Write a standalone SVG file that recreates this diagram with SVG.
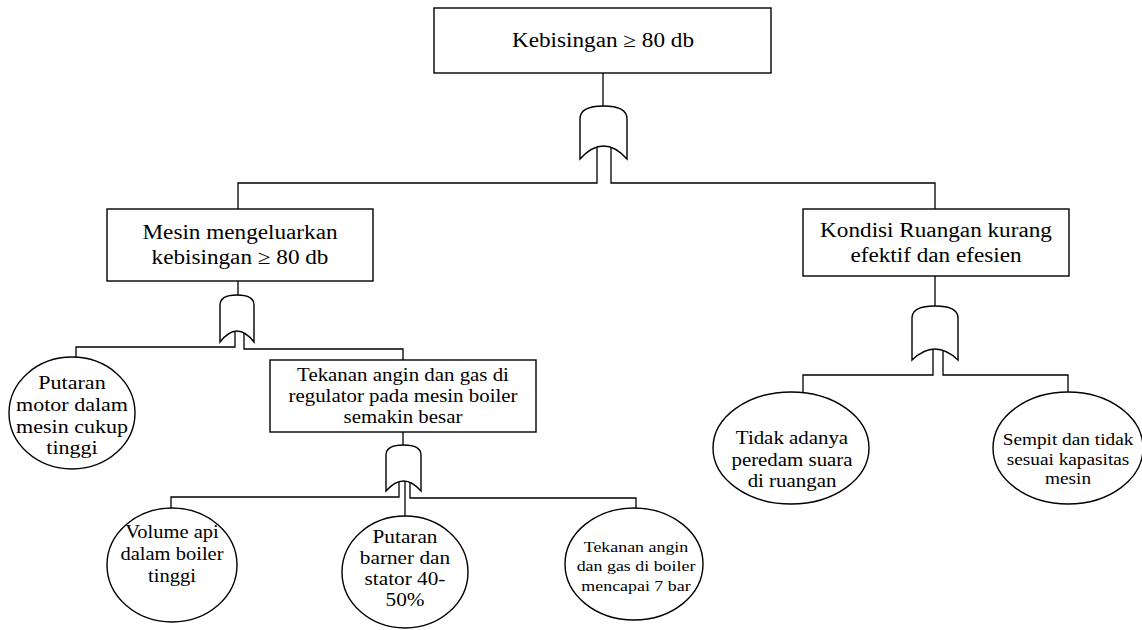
<svg xmlns="http://www.w3.org/2000/svg" width="1142" height="630" viewBox="0 0 1142 630">
<style>
.box{fill:#fff;stroke:#000;stroke-width:1.4}
.ev{fill:#fff;stroke:#000;stroke-width:1.4}
.gate{fill:#fff;stroke:#000;stroke-width:1.4}
.ln{fill:none;stroke:#000;stroke-width:1.3}
text{font-family:"Liberation Serif","Times New Roman",serif;fill:#000;text-anchor:middle}
.t20{font-size:20px}
.t19{font-size:19px}
.t18{font-size:18px}
.t16{font-size:16.5px}
.t15{font-size:15.5px}
</style>
<rect width="1142" height="630" fill="#fff"/>
<g id="connectors">
<path class="ln" d="M603,73 V106"/>
<path class="ln" d="M597,146 V183 H238 V209"/>
<path class="ln" d="M611,146 V183 H935 V209"/>
<path class="ln" d="M238,281 V295"/>
<path class="ln" d="M235,330 V347 H76 V358"/>
<path class="ln" d="M244,330 V349 H403 V360"/>
<path class="ln" d="M403,432 V445"/>
<path class="ln" d="M399,480 V497 H171 V508"/>
<path class="ln" d="M405,480 V516"/>
<path class="ln" d="M410,480 V498 H636 V508"/>
<path class="ln" d="M935,276 V306"/>
<path class="ln" d="M933,348 V375 H803 V392"/>
<path class="ln" d="M943,348 V375 H1068 V392"/>
</g>
<g id="gate-top"><path class="gate" d="M580,159 V119 Q580,106 603.5,106 Q627,106 627,119 V159 Q603.5,133 580,159 Z"/></g>
<g id="gate-left"><path class="gate" d="M220,342 V305 Q220,295 237,295 Q254,295 254,305 V342 Q237,320 220,342 Z"/></g>
<g id="gate-mid"><path class="gate" d="M386,491 V455 Q386,445 403.5,445 Q421,445 421,455 V491 Q403.5,471 386,491 Z"/></g>
<g id="gate-right"><path class="gate" d="M912,360 V318 Q912,306 935,306 Q958,306 958,318 V360 Q935,338 912,360 Z"/></g>
<g id="n-top">
<rect class="box" x="434" y="8" width="337" height="65"/>
<text class="t20" transform="translate(603,47) scale(1.16,1)">Kebisingan ≥ 80 db</text>
</g>
<g id="n-mesin">
<rect class="box" x="107" y="209" width="266" height="72"/>
<text class="t20" transform="translate(240,0) scale(1.16,1)"><tspan x="0" y="239">Mesin mengeluarkan</tspan><tspan x="0" y="264">kebisingan ≥ 80 db</tspan></text>
</g>
<g id="n-kondisi">
<rect class="box" x="803" y="209" width="266" height="67"/>
<text class="t20" transform="translate(936,0) scale(1.16,1)"><tspan x="0" y="237">Kondisi Ruangan kurang</tspan><tspan x="0" y="262">efektif dan efesien</tspan></text>
</g>
<g id="n-tekanan">
<rect class="box" x="270" y="360" width="266" height="72"/>
<text class="t18" transform="translate(403,0) scale(1.16,1)"><tspan x="0" y="381">Tekanan angin dan gas di</tspan><tspan x="0" y="402">regulator pada mesin boiler</tspan><tspan x="0" y="423">semakin besar</tspan></text>
</g>
<g id="n-putaran-motor">
<ellipse class="ev" cx="72" cy="413" rx="63" ry="56"/>
<text class="t19" transform="translate(72,0) scale(1.16,1)"><tspan x="0" y="389">Putaran</tspan><tspan x="0" y="411">motor dalam</tspan><tspan x="0" y="433">mesin cukup</tspan><tspan x="0" y="454">tinggi</tspan></text>
</g>
<g id="n-volume">
<ellipse class="ev" cx="172" cy="565" rx="65" ry="57"/>
<text class="t19" transform="translate(172,0) scale(1.08,1)"><tspan x="0" y="538">Volume api</tspan><tspan x="0" y="560">dalam boiler</tspan><tspan x="0" y="582">tinggi</tspan></text>
</g>
<g id="n-putaran-barner">
<ellipse class="ev" cx="405" cy="572" rx="63" ry="56"/>
<text class="t19" transform="translate(405,0) scale(1.12,1)"><tspan x="0" y="543">Putaran</tspan><tspan x="0" y="564">barner dan</tspan><tspan x="0" y="585">stator 40-</tspan><tspan x="0" y="606">50%</tspan></text>
</g>
<g id="n-tekanan-boiler">
<ellipse class="ev" cx="634" cy="564" rx="69" ry="56"/>
<text class="t15" transform="translate(636,0) scale(1.155,1)"><tspan x="0" y="552">Tekanan angin</tspan><tspan x="0" y="571">dan gas di boiler</tspan><tspan x="0" y="591">mencapai 7 bar</tspan></text>
</g>
<g id="n-tidak">
<ellipse class="ev" cx="791" cy="448" rx="78" ry="56"/>
<text class="t18" transform="translate(792,0) scale(1.16,1)"><tspan x="0" y="444">Tidak adanya</tspan><tspan x="0" y="466">peredam suara</tspan><tspan x="0" y="487">di ruangan</tspan></text>
</g>
<g id="n-sempit">
<ellipse class="ev" cx="1068" cy="448" rx="75" ry="56"/>
<text class="t16" transform="translate(1068,0) scale(1.17,1)"><tspan x="0" y="445">Sempit dan tidak</tspan><tspan x="0" y="465">sesuai kapasitas</tspan><tspan x="0" y="484">mesin</tspan></text>
</g>
</svg>
